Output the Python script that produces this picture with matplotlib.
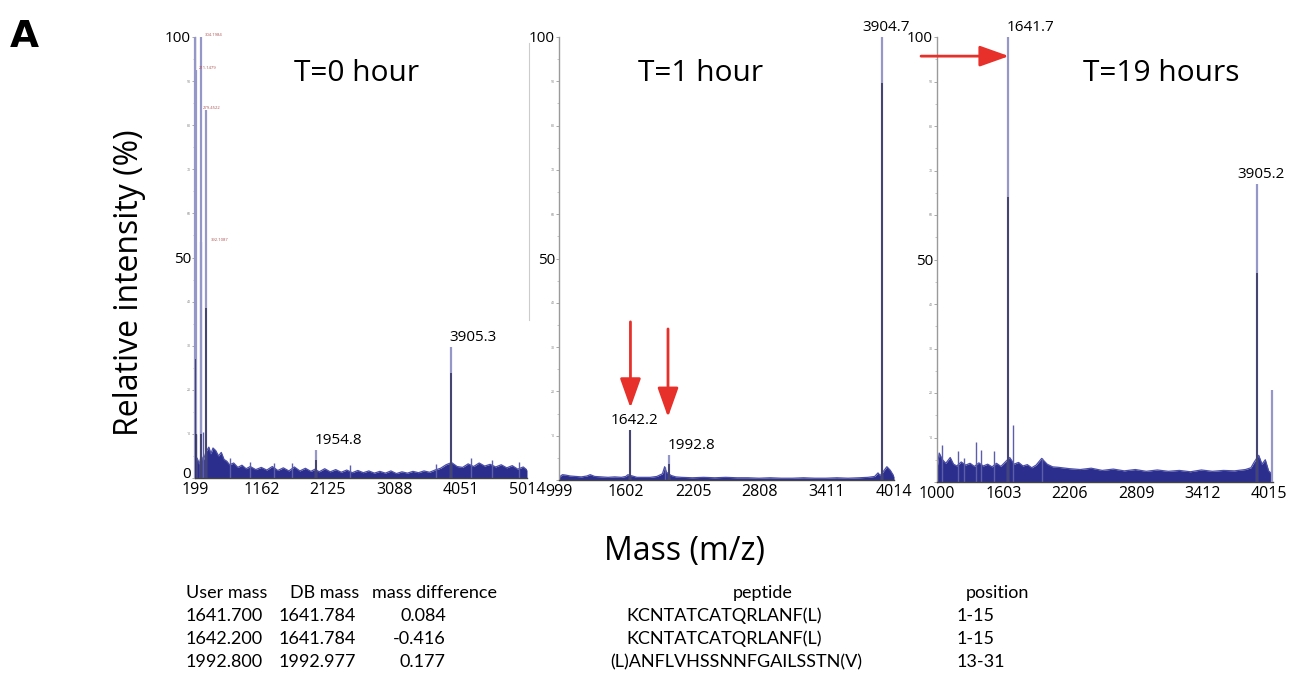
import matplotlib
matplotlib.use("Agg")
import matplotlib.pyplot as plt
from matplotlib.lines import Line2D
from matplotlib import font_manager

# ---------------- data ----------------
titles = ["T=0 hour", "T=1 hour", "T=19 hours"]

xticks1 = [199, 1162, 2125, 3088, 4051, 5014]
xticks2 = [999, 1602, 2205, 2808, 3411, 4014]
xticks3 = [1000, 1603, 2206, 2809, 3412, 4015]

# noise envelope (mass, upper % intensity)
base_m1 = [199, 230, 260, 290, 320, 360, 400, 430, 460, 500, 540, 580, 620, 660, 700, 760, 820, 880, 940,
           1000, 1080, 1160, 1240, 1320, 1400, 1480, 1560, 1640, 1720, 1800, 1880, 1940, 2000, 2080, 2160,
           2240, 2320, 2400, 2480, 2560, 2640, 2720, 2800, 2880, 2960, 3040, 3120, 3200, 3280, 3360, 3440,
           3520, 3600, 3680, 3760, 3840, 3920, 4000, 4080, 4160, 4240, 4320, 4400, 4480, 4560, 4640, 4720,
           4800, 4880, 4960, 5014]
base_u1 = [3.0, 4.5, 3.2, 5.0, 4.0, 6.0, 7.0, 5.5, 6.8, 6.2, 5.0, 5.8, 4.2, 3.8, 3.0, 3.4, 2.4, 2.9, 2.1,
           2.6, 1.9, 2.4, 1.8, 2.6, 1.7, 2.3, 1.6, 2.5, 1.6, 2.2, 1.5, 2.0, 1.4, 2.1, 1.4,
           1.9, 1.3, 1.8, 1.2, 1.7, 1.2, 1.6, 1.1, 1.5, 1.1, 1.6, 1.0, 1.4, 1.1, 1.5, 1.2,
           1.6, 1.3, 1.8, 2.2, 3.0, 3.5, 2.6, 2.4, 3.2, 2.6, 3.4, 2.7, 3.1, 2.5, 3.0, 2.3,
           2.8, 2.0, 2.5, 1.8]
base_m2 = [999, 1030, 1060, 1100, 1150, 1200, 1250, 1280, 1320, 1380, 1440, 1500, 1560, 1600, 1620, 1660,
           1700, 1760, 1820, 1880, 1930, 1950, 1965, 1980, 2010, 2050, 2100, 2200, 2300, 2400, 2500, 2600,
           2700, 2800, 2900, 3000, 3100, 3200, 3300, 3400, 3500, 3600, 3700, 3780, 3840, 3870, 3890, 3920,
           3950, 3980, 4014]
base_u2 = [0.6, 1.2, 1.1, 0.9, 0.8, 0.7, 0.9, 1.2, 0.8, 0.7, 0.6, 0.7, 0.6, 0.8, 1.2, 0.9,
           0.6, 0.6, 0.6, 0.8, 1.4, 3.0, 1.8, 1.5, 1.0, 0.7, 0.6, 0.5, 0.6, 0.5, 0.6, 0.5,
           0.5, 0.4, 0.5, 0.4, 0.4, 0.5, 0.4, 0.4, 0.5, 0.4, 0.5, 0.6, 0.8, 1.6, 1.0, 2.0,
           3.0, 2.2, 0.8]
base_m3 = [1000, 1020, 1050, 1080, 1120, 1150, 1180, 1220, 1260, 1300, 1340, 1380, 1420, 1460, 1500, 1540,
           1580, 1620, 1660, 1700, 1740, 1780, 1820, 1860, 1900, 1950, 2000, 2050, 2100, 2200, 2300, 2400,
           2500, 2600, 2700, 2800, 2900, 3000, 3100, 3200, 3300, 3400, 3500, 3600, 3700, 3800, 3850, 3880,
           3920, 3950, 3980, 4010, 4040]
base_u3 = [3.0, 6.5, 5.0, 4.2, 5.5, 4.0, 3.6, 4.5, 3.8, 4.2, 3.5, 4.3, 3.6, 4.0, 3.4, 4.2,
           3.5, 4.5, 5.5, 4.0, 4.4, 3.6, 3.9, 3.2, 3.8, 5.3, 4.0, 3.4, 3.3, 3.0, 2.8, 3.1,
           2.6, 2.9, 2.5, 2.8, 2.4, 2.7, 2.4, 2.6, 2.3, 2.7, 2.4, 2.6, 2.5, 2.8, 3.2, 4.5,
           6.0, 4.0, 5.0, 2.5, 1.8]

# small noise spikes
spike_m1 = [215, 320, 700, 1000, 1350, 1600, 2450, 3700, 4200, 4500, 4900]
spike_h1 = [10.0, 10.5, 4.5, 3.6, 3.4, 3.3, 3.0, 3.2, 4.6, 4.0, 3.7]
spike_m2 = [1953]
spike_h2 = [3.0]
spike_m3 = [1045, 1190, 1245, 1350, 1400, 1520, 1692, 1950]
spike_h3 = [8.4, 7.0, 5.5, 8.9, 7.2, 7.0, 12.7, 5.5]

# main peaks: mass, outer (light) height, inner (dark) height
peak_m1 = [205, 215, 286, 292, 359, 1954.8, 3905.3]
peak_light1 = [100, 92.5, 100, 53.6, 83.4, 6.3, 29.7]
peak_dark1 = [27, 10, 10, 0, 38.5, 4.0, 23.8]
peak_m2 = [1642.2, 1992.8, 3904.7]
peak_light2 = [11.3, 5.6, 100]
peak_dark2 = [11.3, 3.5, 89.6]
peak_m3 = [1641.7, 3905.2, 4045]
peak_light3 = [100, 67, 20.7]
peak_dark3 = [64, 47, 0]

# labelled peaks
lab_m1 = [1954.8, 3905.3]
lab_y1 = [6.3, 29.7]
lab_t1 = ["1954.8", "3905.3"]
lab_m2 = [1642.2, 1992.8, 3904.7]
lab_y2 = [11.3, 5.6, 100]
lab_t2 = ["1642.2", "1992.8", "3904.7"]
lab_m3 = [1641.7, 3905.2]
lab_y3 = [100, 67]
lab_t3 = ["1641.7", "3905.2"]

# tiny red peak-picking labels in the first panel
red_m1 = [304, 211, 279, 392]
red_y1 = [100, 92.5, 83.4, 53.6]
red_t1 = ["304.1984", "211.1479", "279.4522", "392.1087"]

table_header = ["User mass", "DB mass", "mass difference", "peptide", "position"]
user_mass = ["1641.700", "1642.200", "1992.800"]
db_mass = ["1641.784", "1641.784", "1992.977"]
mass_diff = ["0.084", "-0.416", "0.177"]
peptides = ["KCNTATCATQRLANF(L)", "KCNTATCATQRLANF(L)", "(L)ANFLVHSSNNFGAILSSTN(V)"]
positions = ["1-15", "1-15", "13-31"]

# ---------------- figure ----------------
W, H = 1291, 677
fig = plt.figure(figsize=(W / 100, H / 100), dpi=100)
fig.patch.set_facecolor("white")

names = {f.name for f in font_manager.fontManager.ttflist}
MAIN = "Open Sans" if "Open Sans" in names else "DejaVu Sans"
NARROW = "Lato" if "Lato" in names else MAIN
plt.rcParams["font.family"] = [MAIN, "DejaVu Sans"]


def fx(x):
    return x / W


def fy(y):
    return 1 - y / H


def make_ax(x0, x1, y0, y1):
    return fig.add_axes([fx(x0), fy(y0), fx(x1) - fx(x0), fy(y1) - fy(y0)])


NOISE = "#2b2e8c"
LIGHT = "#9597c9"
DARK = "#34355f"

panels = [
    dict(box=(195, 527, 478, 37), xlim=(199, 5014), ticks=xticks1, bm=base_m1, bu=base_u1,
         sm=spike_m1, sh=spike_h1, pm=peak_m1, pl=peak_light1, pd=peak_dark1,
         lm=lab_m1, ly=lab_y1, lt=lab_t1, ha=["left", "left"], zero=True),
    dict(box=(559, 894, 480, 37), xlim=(999, 4014), ticks=xticks2, bm=base_m2, bu=base_u2,
         sm=spike_m2, sh=spike_h2, pm=peak_m2, pl=peak_light2, pd=peak_dark2,
         lm=lab_m2, ly=lab_y2, lt=lab_t2, ha=["center", "left", "center"], zero=False),
    dict(box=(937, 1273, 482, 37), xlim=(1000, 4050), ticks=xticks3, bm=base_m3, bu=base_u3,
         sm=spike_m3, sh=spike_h3, pm=peak_m3, pl=peak_light3, pd=peak_dark3,
         lm=lab_m3, ly=lab_y3, lt=lab_t3, ha=["left", "center"], zero=False),
]
label_dx = {"left": -1, "center": 3, "right": 0}

axes = []
for p in panels:
    ax = make_ax(*p["box"])
    axes.append(ax)
    ax.set_xlim(*p["xlim"])
    ax.set_ylim(0, 100)
    ax.patch.set_alpha(0)
    for s in ("top", "right"):
        ax.spines[s].set_visible(False)
    ax.spines["left"].set_color("#9a9a9a")
    ax.spines["left"].set_linewidth(1.0)
    ax.spines["bottom"].set_color("#444444")
    ax.spines["bottom"].set_linewidth(1.0)

    # noise band
    ax.fill_between(p["bm"], 0, p["bu"], color=NOISE, lw=0, zorder=2)
    ax.plot(p["bm"], p["bu"], color="#4a4da6", lw=0.9, zorder=2)
    ax.vlines(p["sm"], 0, p["sh"], color="#5c5fa8", lw=1.0, zorder=2)
    # peaks
    ax.vlines(p["pm"], 0, p["pl"], color=LIGHT, lw=1.6, zorder=3, clip_on=False)
    dm = [m for m, d in zip(p["pm"], p["pd"]) if d > 0]
    dd = [d for d in p["pd"] if d > 0]
    ax.vlines(dm, 0, dd, color=DARK, lw=1.2, zorder=4)

    for m, yv, t, ha in zip(p["lm"], p["ly"], p["lt"], p["ha"]):
        ax.annotate(t, (m, yv), xytext=(label_dx[ha], 1.5), textcoords="offset points",
                    ha=ha, va="bottom", fontsize=11, annotation_clip=False)

    # ticks
    ax.set_xticks(p["ticks"])
    ax.set_xticklabels([str(t) for t in p["ticks"]], fontsize=11.5)
    ax.tick_params(axis="x", length=0, pad=3)
    yt = list(range(0, 101, 10))
    ax.set_yticks(yt)
    labels = [("" if v == 0 else str(v)) for v in yt]
    ax.set_yticklabels(labels)
    for lbl, v in zip(ax.get_yticklabels(), yt):
        if v in (50, 100):
            lbl.set_fontsize(11)
        else:
            lbl.set_fontsize(2.5)
            lbl.set_color("#777777")
    ax.tick_params(axis="y", length=2, width=0.6, color="#9a9a9a", pad=1)
    ax.set_yticks(range(5, 100, 10), minor=True)
    ax.tick_params(axis="y", which="minor", length=1.2, width=0.5, color="#b0b0b0")
    if p["zero"]:
        ax.annotate("0", (p["xlim"][0], 0), xytext=(-3, 2.5), textcoords="offset points",
                    ha="right", va="center", fontsize=11, annotation_clip=False)

# tiny red labels in panel 1
for m, yv, t in zip(red_m1, red_y1, red_t1):
    axes[0].text(m + 40, yv, t, fontsize=3, color="#b05050", ha="left", va="bottom")

# titles
title_pos = [(357, 81), (701, 81), (1161, 81)]
for t, (x, y) in zip(titles, title_pos):
    fig.text(fx(x), fy(y), t, fontsize=21.5, ha="center", va="baseline")

# red arrows
RED = "#e8302a"
aprops = dict(arrowstyle="-|>,head_length=0.9,head_width=0.32", color=RED, lw=2.0,
              shrinkA=0, shrinkB=0, mutation_scale=20)
axes[1].annotate("", xy=(1642, 16.3), xytext=(1642, 35.7), arrowprops=aprops)
axes[1].annotate("", xy=(1980, 14.2), xytext=(1980, 34.1), arrowprops=aprops)
axes[2].annotate("", xy=(1653, 95.7), xytext=(855, 95.7), arrowprops=aprops,
                 annotation_clip=False)

# frame remnants
fig.add_artist(Line2D([fx(529), fx(529)], [fy(43), fy(320)], color="#cccccc", lw=0.8))

# axis labels
fig.text(fx(130), fy(283), "Relative intensity (%)", rotation=90, fontsize=23,
         ha="center", va="center")
fig.text(fx(685), fy(560), "Mass (m/z)", fontsize=23, ha="center", va="baseline")
fig.text(fx(10), fy(47), "A", fontsize=27, fontweight="bold", ha="left", va="baseline",
         family=["DejaVu Sans"])

# table
rows_y = [598, 621, 644, 667]
TF = dict(fontsize=13, va="baseline", family=[NARROW, "DejaVu Sans"])
fig.text(fx(186), fy(rows_y[0]), table_header[0], ha="left", **TF)
fig.text(fx(290), fy(rows_y[0]), table_header[1], ha="left", **TF)
fig.text(fx(372), fy(rows_y[0]), table_header[2], ha="left", **TF)
fig.text(fx(763), fy(rows_y[0]), table_header[3], ha="center", **TF)
fig.text(fx(997), fy(rows_y[0]), table_header[4], ha="center", **TF)
pep_cx = [724, 724, 736]
for i in range(3):
    y = fy(rows_y[i + 1])
    fig.text(fx(186), y, user_mass[i], ha="left", **TF)
    fig.text(fx(279), y, db_mass[i], ha="left", **TF)
    fig.text(fx(446), y, mass_diff[i], ha="right", **TF)
    fig.text(fx(pep_cx[i]), y, peptides[i], ha="center", **TF)
    fig.text(fx(957), y, positions[i], ha="left", **TF)

fig.savefig("out.png", dpi=100)
